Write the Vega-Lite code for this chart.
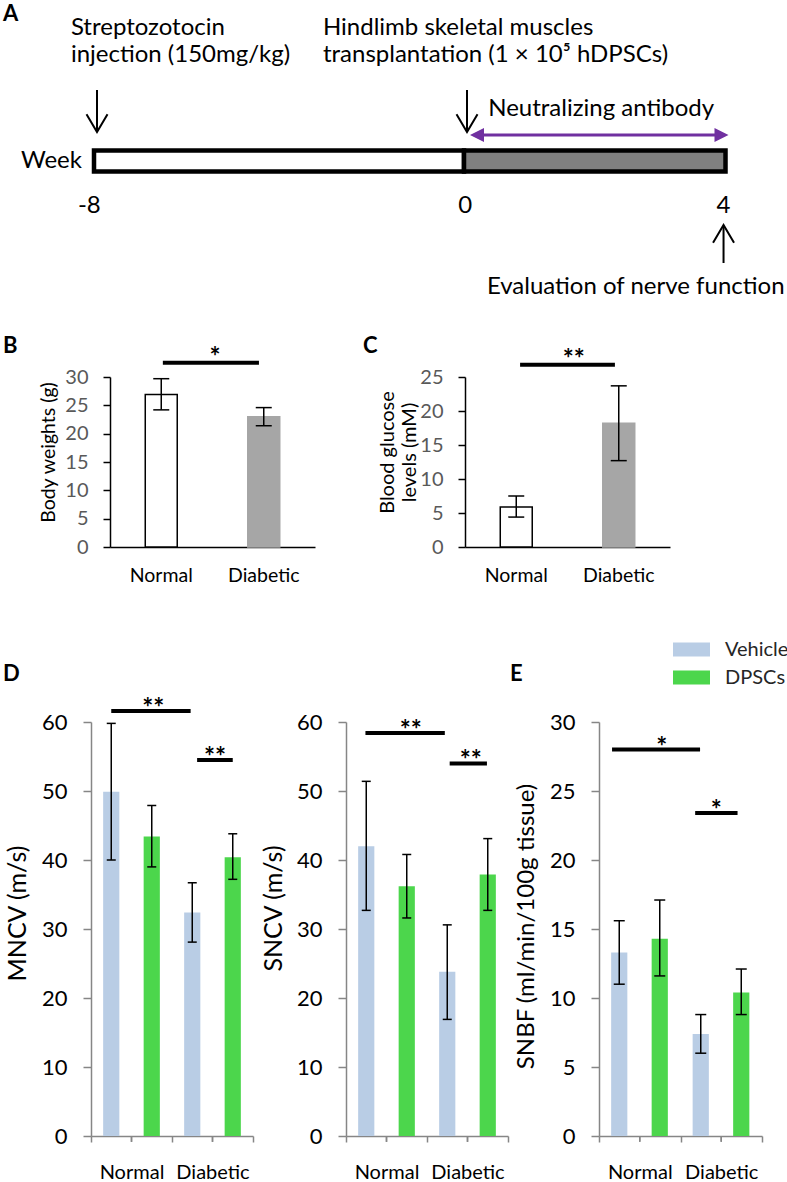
{
  "$schema": "https://vega.github.io/schema/vega-lite/v6.json",
  "padding": 0,
  "spacing": 0,
  "background": "white",
  "config": {"font": "Lato", "view": {"stroke": null}, "axis": {"grid": false, "labelOverlap": false}, "title": {"font": "Lato", "color": "black"}},
  "resolve": {"scale": {"fill": "independent", "stroke": "independent", "color": "independent", "shape": "independent"}},
  "vconcat": [
    {
      "width": 787,
      "height": 335,
      "layer": [
        {
          "data": {"values": [{"phase": "pre", "start": -8, "end": 0}, {"phase": "post", "start": 0, "end": 4}]},
          "mark": {"type": "rect", "stroke": "black", "strokeWidth": 4.5},
          "encoding": {
            "x": {"field": "start", "type": "quantitative", "scale": {"domain": [-8, 0, 4], "range": [94, 464, 725.5]}, "axis": null},
            "x2": {"field": "end"},
            "y": {"datum": 150.5, "type": "quantitative", "scale": {"domain": [0, 300], "range": [0, 300]}, "axis": null},
            "y2": {"datum": 171.5},
            "fill": {"field": "phase", "type": "nominal", "scale": {"domain": ["pre", "post"], "range": ["#ffffff", "#808080"]}, "legend": null}
          }
        },
        {
          "data": {"values": [{"w": -7.935, "r1": 90, "r2": 131}, {"w": 0.046, "r1": 90, "r2": 131}, {"w": 3.97, "r1": 226, "r2": 263}]},
          "mark": {"type": "rule", "color": "black", "strokeWidth": 2},
          "encoding": {
            "x": {"field": "w", "type": "quantitative"},
            "y": {"field": "r1", "type": "quantitative"},
            "y2": {"field": "r2"}
          }
        },
        {
          "data": {"values": [{"w": -7.935, "r": 132, "dir": "down"}, {"w": 0.046, "r": 132, "dir": "down"}, {"w": 3.97, "r": 225, "dir": "up"}]},
          "mark": {"type": "point", "filled": false, "strokeWidth": 2, "opacity": 1, "size": 441, "color": "black"},
          "encoding": {
            "x": {"field": "w", "type": "quantitative"},
            "y": {"field": "r", "type": "quantitative"},
            "shape": {"field": "dir", "type": "nominal", "scale": {"domain": ["down", "up", "left", "right"], "range": ["M-1,-1.7L0,0L1,-1.7", "M-1,1.7L0,0L1,1.7", "M0,0L2,-1L2,1Z", "M0,0L-2,-1L-2,1Z"]}, "legend": null}
          }
        },
        {
          "data": {"values": [{"w1": 0.25, "w2": 3.87, "r": 135}]},
          "mark": {"type": "rule", "color": "#7030a0", "strokeWidth": 3},
          "encoding": {
            "x": {"field": "w1", "type": "quantitative"},
            "x2": {"field": "w2"},
            "y": {"field": "r", "type": "quantitative"}
          }
        },
        {
          "data": {"values": [{"w": 0.092, "r": 135, "dir": "left"}, {"w": 4.046, "r": 135, "dir": "right"}]},
          "mark": {"type": "point", "filled": true, "opacity": 1, "size": 196, "color": "#7030a0", "strokeWidth": 0},
          "encoding": {
            "x": {"field": "w", "type": "quantitative"},
            "y": {"field": "r", "type": "quantitative"},
            "shape": {"field": "dir", "type": "nominal", "scale": {"domain": ["down", "up", "left", "right"], "range": ["M-1,-1.7L0,0L1,-1.7", "M-1,1.7L0,0L1,1.7", "M0,0L2,-1L2,1Z", "M0,0L-2,-1L-2,1Z"]}, "legend": null}
          }
        },
        {
          "data": {"values": [
            {"t": "Streptozotocin", "w": -8.5, "r": 35},
            {"t": "injection (150mg/kg)", "w": -8.5, "r": 62},
            {"t": "Hindlimb skeletal muscles", "w": -3.05, "r": 35},
            {"t": "transplantation (1 × 10⁵ hDPSCs)", "w": -3.05, "r": 62},
            {"t": "Neutralizing antibody", "w": 0.37, "r": 116},
            {"t": "Evaluation of nerve function", "w": 0.35, "r": 294}
          ]},
          "mark": {"type": "text", "align": "left", "baseline": "alphabetic", "fontSize": 24, "color": "black"},
          "encoding": {
            "x": {"field": "w", "type": "quantitative"},
            "y": {"field": "r", "type": "quantitative"},
            "text": {"field": "t"}
          }
        },
        {
          "data": {"values": [{"t": "Week", "w": -8.26, "r": 168}]},
          "mark": {"type": "text", "align": "right", "baseline": "alphabetic", "fontSize": 24, "color": "black"},
          "encoding": {
            "x": {"field": "w", "type": "quantitative"},
            "y": {"field": "r", "type": "quantitative"},
            "text": {"field": "t"}
          }
        },
        {
          "data": {"values": [{"t": "-8", "w": -8.1, "r": 213}, {"t": "0", "w": 0.02, "r": 213}, {"t": "4", "w": 3.97, "r": 213}]},
          "mark": {"type": "text", "align": "center", "baseline": "alphabetic", "fontSize": 24, "color": "black"},
          "encoding": {
            "x": {"field": "w", "type": "quantitative"},
            "y": {"field": "r", "type": "quantitative"},
            "text": {"field": "t"}
          }
        },
        {
          "data": {"values": [{"t": "A", "w": -9.97, "r": 21}]},
          "mark": {"type": "text", "align": "left", "baseline": "alphabetic", "fontSize": 22, "fontWeight": "bold", "color": "black"},
          "encoding": {
            "x": {"field": "w", "type": "quantitative"},
            "y": {"field": "r", "type": "quantitative"},
            "text": {"field": "t"}
          }
        }
      ]
    },
    {
      "hconcat": [
        {
          "width": 110, "height": 258,
          "data": {"values": [{}]},
          "mark": {"type": "text"},
          "encoding": {"text": {"value": ""}},
          "title": {"text": "B", "anchor": "start", "frame": "group", "offset": 2, "dx": 3, "baseline": "alphabetic", "fontSize": 22, "fontWeight": "bold"}
        },
        {
          "width": 205, "height": 170,
          "data": {"values": [
            {"cond": "Normal", "mean": 26.9, "lo": 24.2, "hi": 29.7},
            {"cond": "Diabetic", "mean": 23.0, "lo": 21.4, "hi": 24.6}
          ]},
          "encoding": {
            "y": {"type": "quantitative", "scale": {"domain": [0, 30], "nice": false},
              "axis": {"values": [0, 5, 10, 15, 20, 25, 30], "tickCount": 10, "labelOverlap": false, "title": "Body weights (g)", "titleFontSize": 19.5, "titleFontWeight": "normal", "titleColor": "black", "titlePadding": 6, "titleY": 75,
                "domainColor": "black", "domainWidth": 1.5, "tickColor": "black", "tickWidth": 1.5, "tickSize": 7, "labelColor": "#595959", "labelFontSize": 20, "labelPadding": 15}}
          },
          "layer": [
            {
              "mark": {"type": "bar", "strokeWidth": 1.5},
              "encoding": {
                "x": {"field": "cond", "type": "nominal", "scale": {"domain": ["Normal", "Diabetic"], "paddingInner": 0.688, "paddingOuter": 0.344},
                  "axis": {"title": null, "labelAngle": 0, "ticks": false, "domainColor": "black", "domainWidth": 1.5, "labelFontSize": 19.5, "labelColor": "black", "labelPadding": 19}},
                "y": {"field": "mean"},
                "fill": {"field": "cond", "type": "nominal", "scale": {"domain": ["Normal", "Diabetic"], "range": ["#ffffff", "#a6a6a6"]}, "legend": null},
                "stroke": {"field": "cond", "type": "nominal", "scale": {"domain": ["Normal", "Diabetic"], "range": ["#000000", "#a6a6a6"]}, "legend": null}
              }
            },
            {
              "mark": {"type": "rule", "color": "black", "strokeWidth": 1.5},
              "encoding": {"x": {"field": "cond", "type": "nominal"}, "y": {"field": "lo"}, "y2": {"field": "hi"}}
            },
            {
              "mark": {"type": "tick", "color": "black", "thickness": 1.5, "size": 16, "opacity": 1},
              "encoding": {"x": {"field": "cond", "type": "nominal"}, "y": {"field": "hi"}}
            },
            {
              "mark": {"type": "tick", "color": "black", "thickness": 1.5, "size": 16, "opacity": 1},
              "encoding": {"x": {"field": "cond", "type": "nominal"}, "y": {"field": "lo"}}
            },
            {
              "data": {"values": [{"c1": "Normal", "c2": "Diabetic", "p": 32.5}]},
              "mark": {"type": "rule", "color": "black", "strokeWidth": 4},
              "encoding": {"x": {"field": "c1", "type": "nominal", "bandPosition": 0.55}, "x2": {"field": "c2", "bandPosition": 0.35}, "y": {"field": "p"}}
            },
            {
              "data": {"values": [{"c1": "Normal", "p": 32.5, "s": "*"}]},
              "mark": {"type": "text", "fontSize": 26, "fontWeight": "bold", "dy": 3, "baseline": "alphabetic", "align": "center", "color": "black"},
              "encoding": {"x": {"field": "c1", "type": "nominal", "bandPosition": 2.18}, "y": {"field": "p"}, "text": {"field": "s"}}
            }
          ]
        },
        {
          "width": 150, "height": 258,
          "data": {"values": [{}]},
          "mark": {"type": "text"},
          "encoding": {"text": {"value": ""}},
          "title": {"text": "C", "anchor": "start", "frame": "group", "offset": 2, "dx": 48, "baseline": "alphabetic", "fontSize": 22, "fontWeight": "bold"}
        },
        {
          "width": 205, "height": 170,
          "data": {"values": [
            {"cond": "Normal", "mean": 5.9, "lo": 4.4, "hi": 7.5},
            {"cond": "Diabetic", "mean": 18.2, "lo": 12.7, "hi": 23.7}
          ]},
          "encoding": {
            "y": {"type": "quantitative", "scale": {"domain": [0, 25], "nice": false},
              "axis": {"values": [0, 5, 10, 15, 20, 25], "tickCount": 10, "labelOverlap": false, "title": ["Blood glucose", "levels (mM)"], "titleFontSize": 20, "titleLineHeight": 22, "titleFontWeight": "normal", "titleColor": "black", "titlePadding": 0, "titleY": 75,
                "domainColor": "black", "domainWidth": 1.5, "tickColor": "black", "tickWidth": 1.5, "tickSize": 7, "labelColor": "#595959", "labelFontSize": 20, "labelPadding": 15}}
          },
          "layer": [
            {
              "mark": {"type": "bar", "strokeWidth": 1.5},
              "encoding": {
                "x": {"field": "cond", "type": "nominal", "scale": {"domain": ["Normal", "Diabetic"], "paddingInner": 0.688, "paddingOuter": 0.344},
                  "axis": {"title": null, "labelAngle": 0, "ticks": false, "domainColor": "black", "domainWidth": 1.5, "labelFontSize": 19.5, "labelColor": "black", "labelPadding": 19}},
                "y": {"field": "mean"},
                "fill": {"field": "cond", "type": "nominal", "scale": {"domain": ["Normal", "Diabetic"], "range": ["#ffffff", "#a6a6a6"]}, "legend": null},
                "stroke": {"field": "cond", "type": "nominal", "scale": {"domain": ["Normal", "Diabetic"], "range": ["#000000", "#a6a6a6"]}, "legend": null}
              }
            },
            {
              "mark": {"type": "rule", "color": "black", "strokeWidth": 1.5},
              "encoding": {"x": {"field": "cond", "type": "nominal"}, "y": {"field": "lo"}, "y2": {"field": "hi"}}
            },
            {
              "mark": {"type": "tick", "color": "black", "thickness": 1.5, "size": 16, "opacity": 1},
              "encoding": {"x": {"field": "cond", "type": "nominal"}, "y": {"field": "hi"}}
            },
            {
              "mark": {"type": "tick", "color": "black", "thickness": 1.5, "size": 16, "opacity": 1},
              "encoding": {"x": {"field": "cond", "type": "nominal"}, "y": {"field": "lo"}}
            },
            {
              "data": {"values": [{"c1": "Normal", "c2": "Diabetic", "p": 26.8}]},
              "mark": {"type": "rule", "color": "black", "strokeWidth": 4},
              "encoding": {"x": {"field": "c1", "type": "nominal", "bandPosition": 0.62}, "x2": {"field": "c2", "bandPosition": 0.38}, "y": {"field": "p"}}
            },
            {
              "data": {"values": [{"c1": "Normal", "p": 26.8, "s": "**"}]},
              "mark": {"type": "text", "fontSize": 26, "fontWeight": "bold", "dy": 3, "baseline": "alphabetic", "align": "center", "color": "black"},
              "encoding": {"x": {"field": "c1", "type": "nominal", "bandPosition": 2.3}, "y": {"field": "p"}, "text": {"field": "s"}}
            }
          ]
        }
      ],
      "spacing": 0,
      "bounds": "flush",
      "resolve": {"scale": {"fill": "independent", "stroke": "independent"}}
    },
    {
      "hconcat": [
        {
          "width": 91, "height": 414,
          "data": {"values": [{}]},
          "mark": {"type": "text"},
          "encoding": {"text": {"value": ""}},
          "title": {"text": "D", "anchor": "start", "frame": "group", "offset": 19, "dx": 3, "baseline": "alphabetic", "fontSize": 22, "fontWeight": "bold"}
        },
        {
          "width": 162, "height": 414,
          "data": {"values": [
            {"cond": "Normal", "grp": "Vehicle", "mean": 49.9, "lo": 40.0, "hi": 59.8},
            {"cond": "Normal", "grp": "DPSCs", "mean": 43.4, "lo": 39.0, "hi": 47.9},
            {"cond": "Diabetic", "grp": "Vehicle", "mean": 32.4, "lo": 28.1, "hi": 36.7},
            {"cond": "Diabetic", "grp": "DPSCs", "mean": 40.4, "lo": 37.2, "hi": 43.8}
          ]},
          "layer": [
            {
              "mark": {"type": "bar"},
              "encoding": {
                "x": {"field": "cond", "type": "nominal", "scale": {"domain": ["Normal", "Diabetic"], "paddingInner": 0, "paddingOuter": 0},
                  "axis": {"title": null, "labelAngle": 0, "domainColor": "#868686", "domainWidth": 1.5, "tickColor": "#868686", "tickWidth": 1.5, "tickSize": 6, "tickBand": "extent", "labelFontSize": 20, "labelColor": "black", "labelPadding": 20}},
                "xOffset": {"field": "grp", "type": "nominal", "scale": {"domain": ["Vehicle", "DPSCs"], "paddingInner": 0.6, "paddingOuter": 0.3}},
                "y": {"field": "mean", "type": "quantitative", "scale": {"domain": [0, 60]},
                  "axis": {"values": [0, 10, 20, 30, 40, 50, 60], "tickCount": 12, "labelOverlap": false, "title": "MNCV (m/s)", "titleFontSize": 25, "titleFontWeight": "normal", "titleColor": "black", "titlePadding": 11, "titleY": 191,
                    "domainColor": "#868686", "domainWidth": 1.5, "tickColor": "#868686", "tickWidth": 1.5, "tickSize": 8, "labelColor": "black", "labelFontSize": 22, "labelPadding": 16}},
                "color": {"field": "grp", "type": "nominal", "scale": {"domain": ["Vehicle", "DPSCs"], "range": ["#b9cde5", "#4cd64c"]}, "legend": null}
              }
            },
            {
              "mark": {"type": "rule", "color": "black", "strokeWidth": 1.5},
              "encoding": {"x": {"field": "cond", "type": "nominal"}, "xOffset": {"field": "grp", "type": "nominal"}, "y": {"field": "lo", "type": "quantitative"}, "y2": {"field": "hi"}}
            },
            {
              "mark": {"type": "tick", "color": "black", "thickness": 1.5, "size": 9, "opacity": 1},
              "encoding": {"x": {"field": "cond", "type": "nominal"}, "xOffset": {"field": "grp", "type": "nominal"}, "y": {"field": "hi", "type": "quantitative"}}
            },
            {
              "mark": {"type": "tick", "color": "black", "thickness": 1.5, "size": 9, "opacity": 1},
              "encoding": {"x": {"field": "cond", "type": "nominal"}, "xOffset": {"field": "grp", "type": "nominal"}, "y": {"field": "lo", "type": "quantitative"}}
            },
            {
              "mark": {"type": "rule", "color": "#868686", "strokeWidth": 1.5},
              "encoding": {"x": {"field": "cond", "type": "nominal"}, "y": {"datum": 0}, "y2": {"datum": -0.85}}
            },
            {
              "data": {"values": [{"c1": "Normal", "c2": "Diabetic", "p": 61.6}]},
              "mark": {"type": "rule", "color": "black", "strokeWidth": 4},
              "encoding": {"x": {"field": "c1", "type": "nominal", "bandPosition": 0.25}, "x2": {"field": "c2", "bandPosition": 0.23}, "y": {"field": "p", "type": "quantitative"}}
            },
            {
              "data": {"values": [{"c1": "Diabetic", "c2": "Diabetic", "p": 54.5}]},
              "mark": {"type": "rule", "color": "black", "strokeWidth": 4},
              "encoding": {"x": {"field": "c1", "type": "nominal", "bandPosition": 0.31}, "x2": {"field": "c2", "bandPosition": 0.75}, "y": {"field": "p", "type": "quantitative"}}
            },
            {
              "data": {"values": [{"c1": "Normal", "p": 61.6, "s": "**"}]},
              "mark": {"type": "text", "fontSize": 26, "fontWeight": "bold", "dy": 6, "baseline": "alphabetic", "align": "center", "color": "black"},
              "encoding": {"x": {"field": "c1", "type": "nominal", "bandPosition": 0.77}, "y": {"field": "p", "type": "quantitative"}, "text": {"field": "s"}}
            },
            {
              "data": {"values": [{"c1": "Diabetic", "p": 54.5, "s": "**"}]},
              "mark": {"type": "text", "fontSize": 26, "fontWeight": "bold", "dy": 6, "baseline": "alphabetic", "align": "center", "color": "black"},
              "encoding": {"x": {"field": "c1", "type": "nominal", "bandPosition": 0.53}, "y": {"field": "p", "type": "quantitative"}, "text": {"field": "s"}}
            }
          ]
        },
        {
          "width": 93, "height": 414,
          "data": {"values": [{}]},
          "mark": {"type": "text"},
          "encoding": {"text": {"value": ""}}
        },
        {
          "width": 162, "height": 414,
          "data": {"values": [
            {"cond": "Normal", "grp": "Vehicle", "mean": 42.0, "lo": 32.7, "hi": 51.4},
            {"cond": "Normal", "grp": "DPSCs", "mean": 36.2, "lo": 31.6, "hi": 40.8},
            {"cond": "Diabetic", "grp": "Vehicle", "mean": 23.8, "lo": 16.9, "hi": 30.6},
            {"cond": "Diabetic", "grp": "DPSCs", "mean": 37.9, "lo": 32.7, "hi": 43.1}
          ]},
          "layer": [
            {
              "mark": {"type": "bar"},
              "encoding": {
                "x": {"field": "cond", "type": "nominal", "scale": {"domain": ["Normal", "Diabetic"], "paddingInner": 0, "paddingOuter": 0},
                  "axis": {"title": null, "labelAngle": 0, "domainColor": "#868686", "domainWidth": 1.5, "tickColor": "#868686", "tickWidth": 1.5, "tickSize": 6, "tickBand": "extent", "labelFontSize": 20, "labelColor": "black", "labelPadding": 20}},
                "xOffset": {"field": "grp", "type": "nominal", "scale": {"domain": ["Vehicle", "DPSCs"], "paddingInner": 0.6, "paddingOuter": 0.3}},
                "y": {"field": "mean", "type": "quantitative", "scale": {"domain": [0, 60]},
                  "axis": {"values": [0, 10, 20, 30, 40, 50, 60], "tickCount": 12, "labelOverlap": false, "title": "SNCV (m/s)", "titleFontSize": 25, "titleFontWeight": "normal", "titleColor": "black", "titlePadding": 10, "titleY": 186,
                    "domainColor": "#868686", "domainWidth": 1.5, "tickColor": "#868686", "tickWidth": 1.5, "tickSize": 8, "labelColor": "black", "labelFontSize": 22, "labelPadding": 16}},
                "color": {"field": "grp", "type": "nominal", "scale": {"domain": ["Vehicle", "DPSCs"], "range": ["#b9cde5", "#4cd64c"]}, "legend": null}
              }
            },
            {
              "mark": {"type": "rule", "color": "black", "strokeWidth": 1.5},
              "encoding": {"x": {"field": "cond", "type": "nominal"}, "xOffset": {"field": "grp", "type": "nominal"}, "y": {"field": "lo", "type": "quantitative"}, "y2": {"field": "hi"}}
            },
            {
              "mark": {"type": "tick", "color": "black", "thickness": 1.5, "size": 9, "opacity": 1},
              "encoding": {"x": {"field": "cond", "type": "nominal"}, "xOffset": {"field": "grp", "type": "nominal"}, "y": {"field": "hi", "type": "quantitative"}}
            },
            {
              "mark": {"type": "tick", "color": "black", "thickness": 1.5, "size": 9, "opacity": 1},
              "encoding": {"x": {"field": "cond", "type": "nominal"}, "xOffset": {"field": "grp", "type": "nominal"}, "y": {"field": "lo", "type": "quantitative"}}
            },
            {
              "mark": {"type": "rule", "color": "#868686", "strokeWidth": 1.5},
              "encoding": {"x": {"field": "cond", "type": "nominal"}, "y": {"datum": 0}, "y2": {"datum": -0.85}}
            },
            {
              "data": {"values": [{"c1": "Normal", "c2": "Diabetic", "p": 58.4}]},
              "mark": {"type": "rule", "color": "black", "strokeWidth": 4},
              "encoding": {"x": {"field": "c1", "type": "nominal", "bandPosition": 0.24}, "x2": {"field": "c2", "bandPosition": 0.22}, "y": {"field": "p", "type": "quantitative"}}
            },
            {
              "data": {"values": [{"c1": "Diabetic", "c2": "Diabetic", "p": 54.0}]},
              "mark": {"type": "rule", "color": "black", "strokeWidth": 4},
              "encoding": {"x": {"field": "c1", "type": "nominal", "bandPosition": 0.28}, "x2": {"field": "c2", "bandPosition": 0.74}, "y": {"field": "p", "type": "quantitative"}}
            },
            {
              "data": {"values": [{"c1": "Normal", "p": 58.4, "s": "**"}]},
              "mark": {"type": "text", "fontSize": 26, "fontWeight": "bold", "dy": 6, "baseline": "alphabetic", "align": "center", "color": "black"},
              "encoding": {"x": {"field": "c1", "type": "nominal", "bandPosition": 0.8}, "y": {"field": "p", "type": "quantitative"}, "text": {"field": "s"}}
            },
            {
              "data": {"values": [{"c1": "Diabetic", "p": 54.0, "s": "**"}]},
              "mark": {"type": "text", "fontSize": 26, "fontWeight": "bold", "dy": 6, "baseline": "alphabetic", "align": "center", "color": "black"},
              "encoding": {"x": {"field": "c1", "type": "nominal", "bandPosition": 0.54}, "y": {"field": "p", "type": "quantitative"}, "text": {"field": "s"}}
            }
          ]
        },
        {
          "width": 91, "height": 414,
          "data": {"values": [{}]},
          "mark": {"type": "text"},
          "encoding": {"text": {"value": ""}},
          "title": {"text": "E", "anchor": "start", "frame": "group", "offset": 19, "dx": 2, "baseline": "alphabetic", "fontSize": 22, "fontWeight": "bold"}
        },
        {
          "width": 163, "height": 414,
          "data": {"values": [
            {"cond": "Normal", "grp": "Vehicle", "mean": 13.3, "lo": 11.0, "hi": 15.6},
            {"cond": "Normal", "grp": "DPSCs", "mean": 14.3, "lo": 11.6, "hi": 17.1},
            {"cond": "Diabetic", "grp": "Vehicle", "mean": 7.4, "lo": 6.0, "hi": 8.8},
            {"cond": "Diabetic", "grp": "DPSCs", "mean": 10.4, "lo": 8.8, "hi": 12.1}
          ]},
          "layer": [
            {
              "mark": {"type": "bar"},
              "encoding": {
                "x": {"field": "cond", "type": "nominal", "scale": {"domain": ["Normal", "Diabetic"], "paddingInner": 0, "paddingOuter": 0},
                  "axis": {"title": null, "labelAngle": 0, "domainColor": "#868686", "domainWidth": 1.5, "tickColor": "#868686", "tickWidth": 1.5, "tickSize": 6, "tickBand": "extent", "labelFontSize": 20, "labelColor": "black", "labelPadding": 20}},
                "xOffset": {"field": "grp", "type": "nominal", "scale": {"domain": ["Vehicle", "DPSCs"], "paddingInner": 0.6, "paddingOuter": 0.3}},
                "y": {"field": "mean", "type": "quantitative", "scale": {"domain": [0, 30]},
                  "axis": {"values": [0, 5, 10, 15, 20, 25, 30], "tickCount": 12, "labelOverlap": false, "title": "SNBF (ml/min/100g tissue)", "titleFontSize": 24, "titleFontWeight": "normal", "titleColor": "black", "titlePadding": 11, "titleY": 204,
                    "domainColor": "#868686", "domainWidth": 1.5, "tickColor": "#868686", "tickWidth": 1.5, "tickSize": 8, "labelColor": "black", "labelFontSize": 22, "labelPadding": 16}},
                "color": {"field": "grp", "type": "nominal", "scale": {"domain": ["Vehicle", "DPSCs"], "range": ["#b9cde5", "#4cd64c"]},
                  "legend": {"orient": "none", "legendX": 78, "legendY": -87, "title": null, "padding": 0, "direction": "vertical",
                    "symbolType": "M-1.3,-0.5L1.3,-0.5L1.3,0.5L-1.3,0.5Z", "symbolSize": 810, "symbolStrokeWidth": 0,
                    "labelFontSize": 20, "labelColor": "#262626", "labelOffset": 19, "rowPadding": 3}}
              }
            },
            {
              "mark": {"type": "rule", "color": "black", "strokeWidth": 1.5},
              "encoding": {"x": {"field": "cond", "type": "nominal"}, "xOffset": {"field": "grp", "type": "nominal"}, "y": {"field": "lo", "type": "quantitative"}, "y2": {"field": "hi"}}
            },
            {
              "mark": {"type": "tick", "color": "black", "thickness": 1.5, "size": 11, "opacity": 1},
              "encoding": {"x": {"field": "cond", "type": "nominal"}, "xOffset": {"field": "grp", "type": "nominal"}, "y": {"field": "hi", "type": "quantitative"}}
            },
            {
              "mark": {"type": "tick", "color": "black", "thickness": 1.5, "size": 11, "opacity": 1},
              "encoding": {"x": {"field": "cond", "type": "nominal"}, "xOffset": {"field": "grp", "type": "nominal"}, "y": {"field": "lo", "type": "quantitative"}}
            },
            {
              "mark": {"type": "rule", "color": "#868686", "strokeWidth": 1.5},
              "encoding": {"x": {"field": "cond", "type": "nominal"}, "y": {"datum": 0}, "y2": {"datum": -0.42}}
            },
            {
              "data": {"values": [{"c1": "Normal", "c2": "Diabetic", "p": 28.0}]},
              "mark": {"type": "rule", "color": "black", "strokeWidth": 4},
              "encoding": {"x": {"field": "c1", "type": "nominal", "bandPosition": 0.16}, "x2": {"field": "c2", "bandPosition": 0.24}, "y": {"field": "p", "type": "quantitative"}}
            },
            {
              "data": {"values": [{"c1": "Diabetic", "c2": "Diabetic", "p": 23.4}]},
              "mark": {"type": "rule", "color": "black", "strokeWidth": 4},
              "encoding": {"x": {"field": "c1", "type": "nominal", "bandPosition": 0.18}, "x2": {"field": "c2", "bandPosition": 0.7}, "y": {"field": "p", "type": "quantitative"}}
            },
            {
              "data": {"values": [{"c1": "Normal", "p": 28.0, "s": "*"}]},
              "mark": {"type": "text", "fontSize": 26, "fontWeight": "bold", "dy": 6, "baseline": "alphabetic", "align": "center", "color": "black"},
              "encoding": {"x": {"field": "c1", "type": "nominal", "bandPosition": 0.77}, "y": {"field": "p", "type": "quantitative"}, "text": {"field": "s"}}
            },
            {
              "data": {"values": [{"c1": "Diabetic", "p": 23.4, "s": "*"}]},
              "mark": {"type": "text", "fontSize": 26, "fontWeight": "bold", "dy": 6, "baseline": "alphabetic", "align": "center", "color": "black"},
              "encoding": {"x": {"field": "c1", "type": "nominal", "bandPosition": 0.44}, "y": {"field": "p", "type": "quantitative"}, "text": {"field": "s"}}
            }
          ]
        }
      ],
      "spacing": 0,
      "bounds": "flush",
      "resolve": {"scale": {"color": "independent"}}
    }
  ]
}
